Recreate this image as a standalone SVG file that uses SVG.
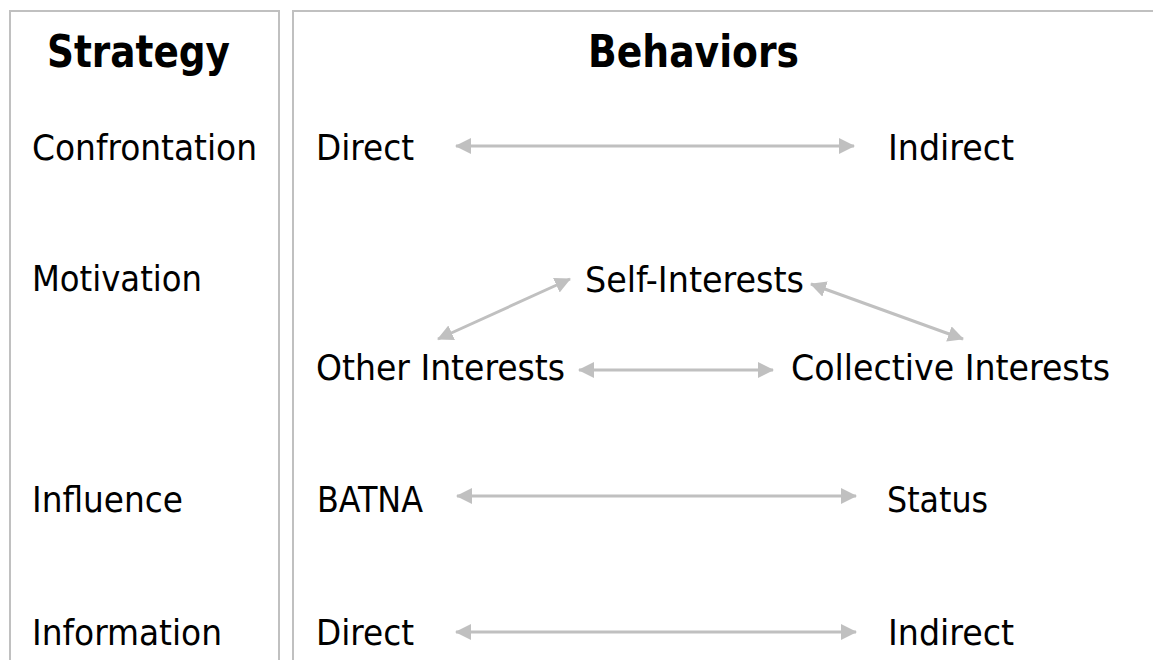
<svg xmlns="http://www.w3.org/2000/svg" width="1153" height="660" viewBox="0 0 1153 660">
<style>
.frame{fill:none;stroke:#c0c0c0;stroke-width:2}
.t{font-family:"DejaVu Sans Condensed","DejaVu Sans",sans-serif;font-size:35px;fill:#000}
.h{font-family:"DejaVu Sans Condensed","DejaVu Sans",sans-serif;font-size:44px;font-weight:bold;fill:#000}
.c{stroke:#c0c0c0;stroke-width:3;fill:none;marker-start:url(#ah);marker-end:url(#ah)}
</style>
<defs>
<marker id="ah" markerUnits="userSpaceOnUse" markerWidth="16" markerHeight="16" viewBox="0 0 16 16" refX="15" refY="8" orient="auto-start-reverse">
<path d="M0,0 L16,8 L0,16 z" fill="#c0c0c0"/>
</marker>
</defs>
<rect width="1153" height="660" fill="#fff"/>
<g id="frames">
<path class="frame" d="M10,680 V11 H279 V680"/>
<path class="frame" d="M293,680 V11 H1170"/>
</g>
<g id="headers">
<text class="h" x="47" y="67" textLength="183" lengthAdjust="spacingAndGlyphs">Strategy</text>
<text class="h" x="588" y="67" textLength="211" lengthAdjust="spacingAndGlyphs">Behaviors</text>
</g>
<g id="strategies">
<text class="t" x="32" y="160" textLength="225" lengthAdjust="spacingAndGlyphs">Confrontation</text>
<text class="t" x="32" y="291" textLength="170" lengthAdjust="spacingAndGlyphs">Motivation</text>
<text class="t" x="32" y="512" textLength="151" lengthAdjust="spacingAndGlyphs">Influence</text>
<text class="t" x="32" y="645" textLength="190" lengthAdjust="spacingAndGlyphs">Information</text>
</g>
<g id="node-direct1"><text class="t" x="316" y="160" textLength="98" lengthAdjust="spacingAndGlyphs">Direct</text></g>
<g id="node-indirect1"><text class="t" x="888" y="160" textLength="126" lengthAdjust="spacingAndGlyphs">Indirect</text></g>
<g id="node-self"><text class="t" x="585" y="292" textLength="219" lengthAdjust="spacingAndGlyphs">Self-Interests</text></g>
<g id="node-other"><text class="t" x="316" y="380" textLength="249" lengthAdjust="spacingAndGlyphs">Other Interests</text></g>
<g id="node-collective"><text class="t" x="791" y="380" textLength="319" lengthAdjust="spacingAndGlyphs">Collective Interests</text></g>
<g id="node-batna"><text class="t" x="317" y="512" textLength="106" lengthAdjust="spacingAndGlyphs">BATNA</text></g>
<g id="node-status"><text class="t" x="887" y="512" textLength="101" lengthAdjust="spacingAndGlyphs">Status</text></g>
<g id="node-direct2"><text class="t" x="316" y="645" textLength="98" lengthAdjust="spacingAndGlyphs">Direct</text></g>
<g id="node-indirect2"><text class="t" x="888" y="645" textLength="126" lengthAdjust="spacingAndGlyphs">Indirect</text></g>
<g id="connectors">
<line class="c" x1="456" y1="146" x2="854" y2="146"/>
<line class="c" x1="570" y1="279" x2="438" y2="339"/>
<line class="c" x1="811" y1="284" x2="963" y2="339"/>
<line class="c" x1="579" y1="370" x2="773" y2="370"/>
<line class="c" x1="457" y1="496" x2="856" y2="496"/>
<line class="c" x1="456" y1="632" x2="856" y2="632"/>
</g>
</svg>
